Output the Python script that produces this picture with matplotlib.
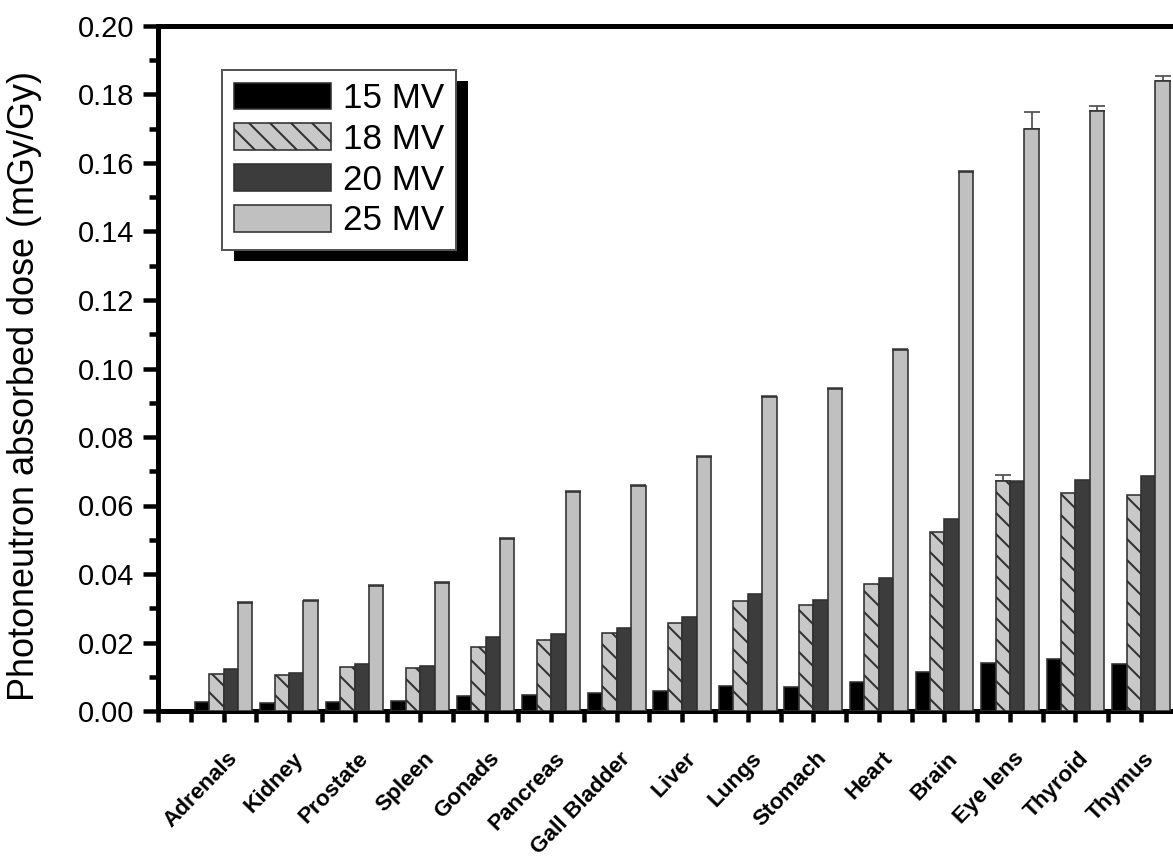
import matplotlib
matplotlib.use("Agg")
import matplotlib.pyplot as plt
import numpy as np
from matplotlib.patches import Rectangle
from matplotlib.ticker import MultipleLocator, FormatStrFormatter, FixedLocator
from matplotlib.transforms import ScaledTranslation

# ---------------- data ----------------
organs = ['Adrenals', 'Kidney', 'Prostate', 'Spleen', 'Gonads', 'Pancreas',
          'Gall Bladder', 'Liver', 'Lungs', 'Stomach', 'Heart', 'Brain',
          'Eye lens', 'Thyroid', 'Thymus']
series_labels = ['15 MV', '18 MV', '20 MV', '25 MV']
mv15 = [0.0025, 0.0022, 0.0027, 0.0030, 0.0044, 0.0048, 0.0053, 0.0059,
        0.0074, 0.0069, 0.0084, 0.0115, 0.0139, 0.0151, 0.0136]
mv18 = [0.0108, 0.0105, 0.0129, 0.0125, 0.0186, 0.0207, 0.0227, 0.0258,
        0.0321, 0.0309, 0.0370, 0.0524, 0.0672, 0.0637, 0.0631]
mv20 = [0.0122, 0.0112, 0.0137, 0.0132, 0.0217, 0.0225, 0.0241, 0.0275,
        0.0342, 0.0324, 0.0387, 0.0561, 0.0668, 0.0674, 0.0687]
mv25 = [0.0314, 0.0322, 0.0365, 0.0375, 0.0502, 0.0640, 0.0657, 0.0742,
        0.0918, 0.0939, 0.1054, 0.1574, 0.1700, 0.1752, 0.1840]
err15 = [0.0] * 15
err18 = [0.0, 0.0, 0.0, 0.0, 0.0, 0.0, 0.0, 0.0, 0.0, 0.0, 0.0, 0.0,
         0.0018, 0.0, 0.0]
err20 = [0.0, 0.0, 0.0, 0.0, 0.0, 0.0, 0.0, 0.0, 0.0, 0.0, 0.0, 0.0,
         0.0004, 0.0, 0.0]
err25 = [0.0003, 0.0003, 0.0003, 0.0003, 0.0003, 0.0003, 0.0003, 0.0003,
         0.0003, 0.0003, 0.0003, 0.0003, 0.0050, 0.0014, 0.0014]

# ---------------- style ----------------
DPI = 126
W, H = 1173, 863
def pt(px):
    return px * 72.0 / DPI

plt.rcParams['font.family'] = ['Liberation Sans', 'DejaVu Sans']
plt.rcParams['hatch.linewidth'] = pt(2.0)
plt.rcParams['hatch.color'] = 'black'

fig = plt.figure(figsize=(W / DPI, H / DPI), dpi=DPI)
left_px, right_px, top_px, bottom_px = 158, 1173, 26, 711
ax = fig.add_axes([left_px / W, 1 - bottom_px / H,
                   (right_px - left_px) / W, (bottom_px - top_px) / H])

x = np.arange(len(organs))
w = 0.22
vals = [mv15, mv18, mv20, mv25]
errs = [err15, err18, err20, err25]
fills = ['#000000', '#c8c8c8', '#3c3c3c', '#c0c0c0']
hatches = [None, '\\\\', None, None]
edge = '#303030'

handles = []
for i, (v, e, fc, hh, lab) in enumerate(zip(vals, errs, fills, hatches, series_labels)):
    pos = x + (i - 1.5) * w
    b = ax.bar(pos, v, width=w, color=fc, edgecolor=edge, linewidth=pt(1.6),
               hatch=hh, label=lab, zorder=3)
    handles.append(b)
    e = np.array(e)
    mask = e > 0
    if mask.any():
        ax.errorbar(pos[mask], np.array(v)[mask],
                    yerr=[np.zeros(mask.sum()), e[mask]],
                    fmt='none', ecolor='#555555', elinewidth=pt(1.8),
                    capsize=pt(8), capthick=pt(1.8), zorder=2)

ax.set_xlim(-1, (right_px - 158.5) / 65.5 - 1)
ax.set_ylim(0, 0.20)

# spines
for s in ['left', 'bottom', 'top']:
    ax.spines[s].set_linewidth(pt(5))
    ax.spines[s].set_color('black')
ax.spines['right'].set_visible(False)

# y ticks
ax.yaxis.set_major_locator(MultipleLocator(0.02))
ax.yaxis.set_minor_locator(MultipleLocator(0.01))
ax.yaxis.set_major_formatter(FormatStrFormatter('%.2f'))
ax.tick_params(axis='y', which='major', direction='out', length=pt(15),
               width=pt(4.5), labelsize=pt(29), pad=pt(9))
ax.tick_params(axis='y', which='minor', direction='out', length=pt(9),
               width=pt(4.5))

# x ticks
ax.xaxis.set_major_locator(FixedLocator(x))
ax.xaxis.set_minor_locator(FixedLocator(np.concatenate([[-1], np.arange(-0.5, len(organs), 1.0)])))
ax.tick_params(axis='x', which='both', direction='out', length=pt(11),
               width=pt(4.5), pad=pt(26))
ax.set_xticklabels(organs, rotation=46, ha='right', va='top',
                   rotation_mode='anchor', fontsize=pt(22.5), fontweight='bold')
offset = ScaledTranslation(3 / DPI, 0, fig.dpi_scale_trans)
for lab in ax.get_xticklabels():
    lab.set_transform(lab.get_transform() + offset)

ax.tick_params(axis='both', which='both', top=False, right=False)

ax.set_ylabel('Photoneutron absorbed dose (mGy/Gy)', fontsize=pt(36))
ax.yaxis.set_label_coords((42 - left_px) / (right_px - left_px), 0.475)

# legend
leg = ax.legend(handles=handles, labels=series_labels, loc='upper left',
                bbox_to_anchor=(222 / W, 1 - 70 / H), bbox_transform=fig.transFigure,
                borderaxespad=0, fontsize=pt(35), handlelength=2.75,
                handleheight=0.8, handletextpad=0.35, labelspacing=0.22,
                borderpad=0.35, fancybox=False, frameon=True, framealpha=1)
leg.get_frame().set_edgecolor('#555555')
leg.get_frame().set_linewidth(pt(2))
leg.set_zorder(10)

fig.canvas.draw()
bb = leg.get_frame().get_window_extent(fig.canvas.get_renderer())
bbf = bb.transformed(fig.transFigure.inverted())
shadow = Rectangle((bbf.x0 + 12 / W, bbf.y0 - 11 / H), bbf.width, bbf.height,
                   transform=fig.transFigure, facecolor='black', edgecolor='none',
                   zorder=9, clip_on=False)
ax.add_patch(shadow)

fig.savefig('out.png', dpi=DPI)
